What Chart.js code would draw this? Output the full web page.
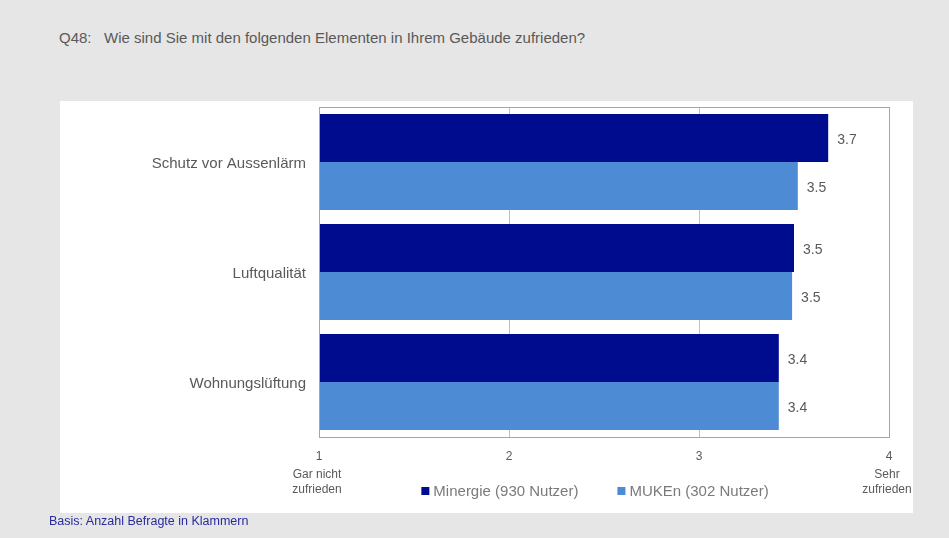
<!DOCTYPE html>
<html>
<head>
<meta charset="utf-8">
<script src="https://cdn.jsdelivr.net/npm/chart.js@4/dist/chart.umd.min.js"></script>
<style>
  html, body { margin: 0; padding: 0; }
  body { width: 949px; height: 538px; background: #e6e6e6; position: relative; overflow: hidden;
         font-family: "Liberation Sans", Arial, sans-serif; }
  #title { position: absolute; left: 59px; top: 29px; font-size: 15px; color: #595959; white-space: pre; }
  #panel { position: absolute; left: 60px; top: 101px; width: 853px; height: 412px; background: #fff; }
  #footer { position: absolute; left: 49px; top: 514px; font-size: 12.5px; color: #2a2a9c; }
  #chart { position: absolute; left: 0; top: 0; }
</style>
</head>
<body>
<div id="title">Q48:   Wie sind Sie mit den folgenden Elementen in Ihrem Gebäude zufrieden?</div>
<div id="panel"></div>
<canvas id="chart" width="949" height="538"></canvas>
<div id="footer">Basis: Anzahl Befragte in Klammern</div>
<script>
"use strict";

// ── 데이터 ──────────────────────────────────────────
const categories = ["Schutz vor Aussenlärm", "Luftqualität", "Wohnungslüftung"];
const minergie   = [3.68, 3.50, 3.42];
const muken      = [3.52, 3.49, 3.42];
const seriesNames = ["Minergie (930 Nutzer)", "MUKEn (302 Nutzer)"];
const xTicks     = [1, 2, 3, 4];
const endCaptions = { 1: ["Gar nicht", "zufrieden"], 4: ["Sehr", "zufrieden"] };

const GRAY = "#595959";
const FONT = "'Liberation Sans', Arial, sans-serif";

// 플롯 박스 테두리
const frame = {
  id: "frame",
  afterDraw(chart) {
    const { ctx, chartArea: a } = chart;
    ctx.save();
    ctx.strokeStyle = "#a6a6a6";
    ctx.lineWidth = 1;
    ctx.strokeRect(a.left + 0.5, a.top + 0.5, a.right - a.left, a.bottom - a.top);
    ctx.restore();
  },
};

// 막대 끝 값 라벨
const valueLabels = {
  id: "valueLabels",
  afterDatasetsDraw(chart) {
    const ctx = chart.ctx;
    ctx.save();
    ctx.font = "14px " + FONT;
    ctx.fillStyle = GRAY;
    ctx.textAlign = "left";
    ctx.textBaseline = "middle";
    chart.data.datasets.forEach((ds, i) => {
      chart.getDatasetMeta(i).data.forEach((bar, j) => {
        ctx.fillText(ds.data[j].toFixed(1), bar.x + 9, bar.y + 2);
      });
    });
    ctx.restore();
  },
};

// 축 양 끝 설명 (Gar nicht zufrieden / Sehr zufrieden)
const endLabels = {
  id: "endLabels",
  afterDraw(chart) {
    const ctx = chart.ctx;
    const x = chart.scales.x;
    ctx.save();
    ctx.font = "12px " + FONT;
    ctx.fillStyle = GRAY;
    ctx.textAlign = "center";
    ctx.textBaseline = "middle";
    Object.keys(endCaptions).forEach(v => {
      const px = x.getPixelForValue(+v) - 2;
      endCaptions[v].forEach((line, k) => {
        ctx.fillText(line, px, x.bottom + 1.5 + k * 15);
      });
    });
    ctx.restore();
  },
};

// 하단 범례 (작은 사각형 + 텍스트)
const bottomLegend = {
  id: "bottomLegend",
  afterDraw(chart) {
    const ctx = chart.ctx;
    const a = chart.chartArea;
    const box = 8, gap = 4, itemGap = 39;
    ctx.save();
    ctx.font = "15px " + FONT;
    ctx.textBaseline = "middle";
    ctx.textAlign = "left";
    const items = chart.data.datasets.map(ds => ({
      text: ds.label, color: ds.backgroundColor, w: box + gap + ctx.measureText(ds.label).width,
    }));
    const total = items.reduce((s, it) => s + it.w, 0) + itemGap * (items.length - 1);
    let x = (a.left + a.right) / 2 - 9 - total / 2;
    const y = a.bottom + 54;
    items.forEach(it => {
      ctx.fillStyle = it.color;
      ctx.fillRect(x, y - box / 2, box, box);
      ctx.fillStyle = "#7a7a7a";
      ctx.fillText(it.text, x + box + gap, y + 1);
      x += it.w + itemGap;
    });
    ctx.restore();
  },
};

new Chart(document.getElementById("chart"), {
  type: "bar",
  data: {
    labels: categories,
    datasets: [
      { label: seriesNames[0], data: minergie, backgroundColor: "#000c8e",
        categoryPercentage: 0.873, barPercentage: 1 },
      { label: seriesNames[1], data: muken, backgroundColor: "#4d8bd4",
        categoryPercentage: 0.873, barPercentage: 1 },
    ],
  },
  options: {
    indexAxis: "y",
    responsive: false,
    animation: false,
    devicePixelRatio: 1,
    layout: { padding: { left: 0, right: 60, top: 107, bottom: 65 } },
    plugins: {
      tooltip: { enabled: false },
      legend: { display: false },
    },
    scales: {
      x: {
        min: 1, max: 4,
        afterBuildTicks(scale) { scale.ticks = xTicks.map(v => ({ value: v })); },
        afterFit(scale) { scale.height = 36; },
        grid: { color: "#c0c0c0", drawTicks: false },
        border: { display: false },
        ticks: { padding: 12, color: GRAY, font: { family: FONT, size: 12 } },
      },
      y: {
        afterFit(scale) { scale.width = 319; },
        grid: { display: false, drawTicks: false },
        border: { display: false },
        ticks: { padding: 13, labelOffset: 2, color: GRAY, font: { family: FONT, size: 15 } },
      },
    },
  },
  plugins: [frame, valueLabels, endLabels, bottomLegend],
});
</script>
</body>
</html>
